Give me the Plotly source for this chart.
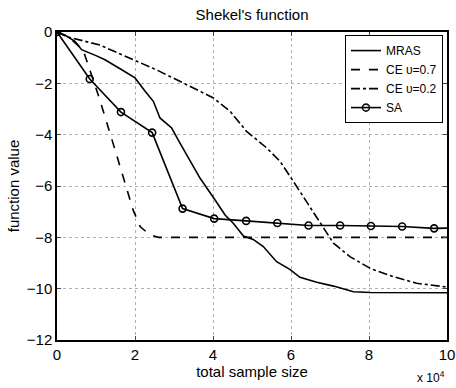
import plotly.graph_objects as go

# x values in units of 10^4 samples
mras_x = [0, 0.2, 0.46, 0.63, 1.0, 1.23, 1.66, 2.0, 2.26, 2.47, 2.64, 2.94, 3.15, 3.41, 3.67, 4.01, 4.31, 4.52, 4.78, 5.03, 5.29, 5.63, 5.97, 6.23, 6.66, 7.09, 7.6, 8.03, 9.0, 10.0]
mras_y = [0, -0.12, -0.36, -0.69, -0.92, -1.08, -1.47, -1.79, -2.31, -2.7, -3.35, -3.74, -4.32, -5.04, -5.7, -6.45, -7.13, -7.45, -7.95, -8.08, -8.36, -8.95, -9.25, -9.56, -9.75, -9.9, -10.12, -10.15, -10.16, -10.16]

ce07_x = [0, 0.3, 0.67, 1.1, 1.49, 1.82, 1.95, 2.13, 2.38, 2.6, 3.0, 10.0]
ce07_y = [0, -0.2, -0.7, -2.65, -4.6, -6.3, -6.93, -7.58, -7.9, -8.0, -8.0, -8.0]

ce02_x = [0, 0.25, 1.1, 1.95, 2.56, 3.24, 4.01, 4.44, 4.86, 5.38, 5.72, 6.06, 6.4, 6.66, 7.09, 7.51, 8.03, 8.62, 9.22, 9.91, 10.0]
ce02_y = [0, -0.18, -0.51, -1.09, -1.48, -1.99, -2.57, -3.09, -3.87, -4.52, -5.04, -5.82, -6.6, -7.22, -8.23, -8.75, -9.21, -9.53, -9.79, -9.92, -9.93]

sa_x = [0, 0.84, 1.64, 2.44, 3.22, 4.03, 4.85, 5.65, 6.45, 7.26, 8.05, 8.85, 9.67, 10.0]
sa_y = [0, -1.83, -3.12, -3.92, -6.88, -7.27, -7.36, -7.44, -7.54, -7.54, -7.56, -7.58, -7.65, -7.64]
sa_marker_count = 13

x_ticks = [0, 2, 4, 6, 8, 10]
y_ticks = [0, -2, -4, -6, -8, -10, -12]

FONT = "Liberation Sans, Arial, sans-serif"
fig = go.Figure()
fig.add_trace(go.Scatter(x=mras_x, y=mras_y, mode="lines", name="MRAS",
                         line=dict(color="black", width=1.6)))
fig.add_trace(go.Scatter(x=ce07_x, y=ce07_y, mode="lines", name="CE υ=0.7",
                         line=dict(color="black", width=1.6, dash="dash")))
fig.add_trace(go.Scatter(x=ce02_x, y=ce02_y, mode="lines", name="CE υ=0.2",
                         line=dict(color="black", width=1.6, dash="dashdot")))
fig.add_trace(go.Scatter(x=sa_x, y=sa_y, mode="lines+markers", name="SA",
                         line=dict(color="black", width=1.6),
                         marker=dict(symbol="circle-open", size=7, color="black",
                                     line=dict(width=1.6))))
# hide the marker on the last (end) point
fig.data[3].marker.opacity = [1] * sa_marker_count + [0] * (len(sa_x) - sa_marker_count)

fig.update_layout(
    width=456, height=388,
    margin=dict(l=57, r=9, t=32, b=48, autoexpand=False),
    paper_bgcolor="white", plot_bgcolor="white",
    font=dict(family=FONT, size=15, color="black"),
    title=dict(text="Shekel's function", x=0.5527, xanchor="center", y=0.962, yanchor="middle",
               font=dict(size=15)),
    showlegend=True,
    legend=dict(x=0.9897, y=0.99, xanchor="right", yanchor="top",
                bgcolor="white", bordercolor="black", borderwidth=1,
                font=dict(size=12), tracegroupgap=0, itemwidth=30),
)
fig.update_xaxes(range=[0, 10], tickvals=x_ticks, ticks="inside", ticklen=4,
                 automargin=False,
                 showline=True, linecolor="black", linewidth=1.5, mirror="ticks",
                 showgrid=True, gridcolor="#b0b0b0", griddash="dot", gridwidth=1,
                 zeroline=False, tickfont=dict(size=15),
                 title=dict(text="total sample size", standoff=0, font=dict(size=15)))
fig.update_yaxes(range=[-12, 0], tickvals=y_ticks, ticks="inside", ticklen=4,
                 automargin=False,
                 showline=True, linecolor="black", linewidth=1.5, mirror="ticks",
                 showgrid=True, gridcolor="#b0b0b0", griddash="dot", gridwidth=1,
                 zeroline=False, tickfont=dict(size=15),
                 title=dict(text="function value", standoff=4, font=dict(size=15)))
fig.add_annotation(text="x 10<sup>4</sup>", xref="paper", yref="paper", x=1.0, y=-0.12,
                   xanchor="right", yanchor="middle", showarrow=False, font=dict(size=12))
fig.write_html("out.html")
